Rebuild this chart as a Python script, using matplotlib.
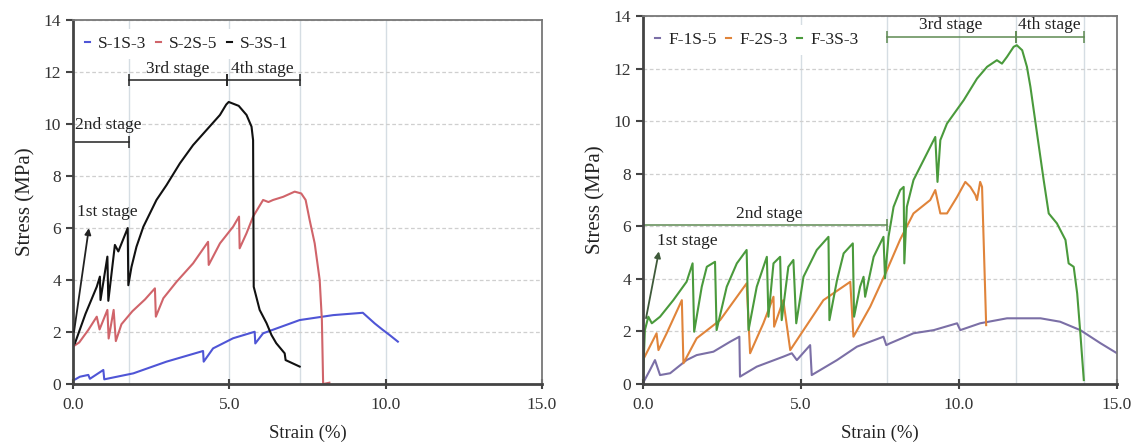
import matplotlib
matplotlib.use("Agg")
import matplotlib.pyplot as plt

plt.rcParams['font.family'] = ['Liberation Serif', 'DejaVu Serif']

# ---------------- Left panel data ----------------
s1_x = [0.0, 0.22, 0.49, 0.54, 0.97, 1.0, 1.93, 2.99, 4.16, 4.18, 4.48, 5.12, 5.81, 5.83, 6.08,
        7.25, 8.32, 9.27, 9.65, 9.91, 10.13, 10.39]
s1_y = [0.13, 0.28, 0.35, 0.2, 0.54, 0.18, 0.41, 0.86, 1.27, 0.86, 1.37, 1.76, 2.01, 1.56, 1.95,
        2.46, 2.65, 2.74, 2.33, 2.08, 1.88, 1.63]

s2_x = [0.0, 0.2, 0.49, 0.76, 0.85, 1.1, 1.14, 1.3, 1.37, 1.55, 1.9, 2.3, 2.62, 2.65, 2.89, 3.31,
        3.84, 4.32, 4.34, 4.7, 5.12, 5.31, 5.33, 5.55, 5.76, 6.08, 6.25, 6.4, 6.72, 7.09, 7.3, 7.44,
        7.57, 7.73, 7.89, 7.96, 8.0, 8.2]
s2_y = [1.44, 1.6, 2.08, 2.59, 2.1, 2.85, 1.75, 2.85, 1.65, 2.3, 2.8, 3.25, 3.68, 2.59, 3.3, 3.93,
        4.64, 5.47, 4.58, 5.41, 6.05, 6.44, 5.22, 5.8, 6.44, 7.08, 7.0, 7.08, 7.2, 7.4, 7.33, 7.08,
        6.3, 5.41, 4.0, 2.46, 0.0, 0.05]

s3_x = [0.0, 0.06, 0.4, 0.76, 0.86, 0.88, 1.1, 1.13, 1.34, 1.45, 1.55, 1.75, 1.77, 1.87, 2.03,
        2.25, 2.67, 2.99, 3.42, 3.84, 4.27, 4.7, 4.9, 4.98, 5.3, 5.55, 5.71, 5.76, 5.78, 5.97,
        6.19, 6.35, 6.5, 6.77, 6.8, 7.25]
s3_y = [1.5, 1.56, 2.7, 3.74, 4.13, 3.23, 4.9, 3.2, 5.35, 5.1, 5.4, 6.0, 3.8, 4.5, 5.28,
        6.05, 7.08, 7.65, 8.49, 9.19, 9.77, 10.35, 10.75, 10.85, 10.7, 10.35, 9.9, 9.38, 3.74, 2.85,
        2.34, 1.88, 1.57, 1.18, 0.92, 0.67]

# ---------------- Right panel data ----------------
f1_x = [0.0, 0.22, 0.38, 0.45, 0.54, 0.86, 1.38, 1.7, 2.23, 2.76, 3.05, 3.07, 3.6, 4.44, 4.71,
        4.87, 5.29, 5.34, 6.14, 6.77, 7.61, 7.7, 7.82, 8.56, 9.2, 9.94, 10.04, 10.67, 11.52,
        12.58, 13.2, 13.84, 14.48, 15.0]
f1_y = [0.03, 0.53, 0.91, 0.66, 0.34, 0.41, 0.91, 1.1, 1.23, 1.61, 1.8, 0.28, 0.66, 1.04, 1.17,
        0.91, 1.48, 0.34, 0.91, 1.42, 1.8, 1.48, 1.55, 1.93, 2.05, 2.31, 2.05, 2.31, 2.5,
        2.5, 2.37, 2.05, 1.55, 1.17]

f2_x = [0.0, 0.43, 0.49, 0.75, 1.23, 1.28, 1.7, 2.44, 3.28, 3.39, 3.81, 4.13, 4.15, 4.44, 4.66,
        5.08, 5.71, 6.56, 6.66, 7.19, 7.72, 8.14, 8.56, 9.09, 9.25, 9.41, 9.62, 9.94, 10.2, 10.36,
        10.52, 10.57, 10.67, 10.73, 10.78, 10.86]
f2_y = [0.91, 1.93, 1.29, 1.93, 3.19, 0.79, 1.74, 2.43, 3.83, 1.17, 2.31, 3.32, 2.18, 3.19, 1.29,
        2.05, 3.19, 3.89, 1.8, 2.94, 4.33, 5.5, 6.49, 7.0, 7.38, 6.49, 6.49, 7.12, 7.69, 7.5,
        7.19, 7.0, 7.69, 7.5, 5.48, 2.24]

f3_x = [0.0, 0.06, 0.17, 0.28, 0.54, 0.96, 1.38, 1.57, 1.62, 1.86, 2.02, 2.28, 2.33, 2.65, 2.97,
        3.28, 3.34, 3.6, 3.92, 3.97, 4.13, 4.34, 4.39, 4.6, 4.76, 4.85, 5.08, 5.5, 5.87, 5.9,
        6.14, 6.35, 6.64, 6.68, 6.87, 6.98, 7.03, 7.3, 7.61, 7.66, 7.77, 7.93, 8.14, 8.25, 8.27,
        8.35, 8.56, 8.88, 9.25, 9.32, 9.41, 9.62, 10.15, 10.57, 10.89, 11.2, 11.36, 11.52, 11.73,
        11.83, 12.0, 12.15, 12.26, 12.47, 12.68, 12.84, 13.1, 13.37, 13.47, 13.63, 13.74, 13.84,
        13.95]
f3_y = [0.15, 2.05, 2.56, 2.31, 2.56, 3.19, 3.89, 4.59, 1.99, 3.7, 4.46, 4.65, 2.05, 3.7, 4.59,
        5.1, 2.05, 3.7, 4.84, 2.56, 4.59, 4.84, 2.43, 4.46, 4.72, 2.31, 4.08, 5.1, 5.6, 2.43,
        3.95, 4.97, 5.35, 2.56, 3.7, 4.08, 3.32, 4.84, 5.6, 4.02, 5.6, 6.74, 7.38, 7.5, 4.59,
        6.74, 7.76, 8.52, 9.4, 7.69, 9.28, 9.91, 10.8, 11.62, 12.07, 12.32, 12.19, 12.45, 12.83,
        12.89, 12.7, 12.07, 11.31, 9.53, 7.76, 6.49, 6.11, 5.48, 4.59, 4.46, 3.45, 1.93,
        0.15]

left_labels = ["S-1S-3", "S-2S-5", "S-3S-1"]
right_labels = ["F-1S-5", "F-2S-3", "F-3S-3"]
left_colors = ["#4f55d6", "#d0646a", "#111111"]
right_colors = ["#7b6fa6", "#e0843a", "#4a9a3c"]

x_ticks = [0, 5, 10, 15]
x_ticklabels = ["0.0", "5.0", "10.0", "15.0"]
y_ticks = [0, 2, 4, 6, 8, 10, 12, 14]

# stage annotations: (x_start, x_end, y_line, label, label_x, label_y)
left_stages = [(0.0, 1.78, 9.3, "2nd stage", 1.13, 9.95),
               (1.78, 4.94, 11.7, "3rd stage", 3.35, 12.1),
               (4.94, 7.25, 11.7, "4th stage", 6.05, 12.1)]
left_vlines = [1.78, 7.25]
right_stages = [(0.0, 7.72, 6.05, "2nd stage", 4.0, 6.45),
                (7.72, 11.8, 13.2, "3rd stage", 9.75, 13.65),
                (11.8, 13.95, 13.2, "4th stage", 12.86, 13.65)]
right_vlines = [7.72, 11.8, 13.95]

fig = plt.figure(figsize=(11.37, 4.46), dpi=100)
axL = fig.add_axes([0.0642, 0.139, 0.4125, 0.816])
axR = fig.add_axes([0.5655, 0.139, 0.4169, 0.825])

FS = 12.5


def style(ax, vlines):
    ax.set_xlim(0, 15)
    ax.set_ylim(0, 14)
    ax.set_xticks(x_ticks)
    ax.set_xticklabels(x_ticklabels)
    ax.set_yticks(y_ticks)
    ax.yaxis.grid(True, color="#cfcfcf", linestyle=(0, (3, 2)), linewidth=0.9)
    for xv in [5, 10] + vlines:
        ax.axvline(xv, color="#d5dde3", linewidth=1.0, zorder=0)
    ax.set_axisbelow(True)
    for side in ["left", "bottom"]:
        ax.spines[side].set_color("#444444")
        ax.spines[side].set_linewidth(2.0)
    for side in ["top", "right"]:
        ax.spines[side].set_color("#777777")
        ax.spines[side].set_linewidth(1.3)
    ax.tick_params(axis="y", direction="out", length=5, width=1.5, color="#444444",
                   labelsize=FS, labelcolor="#333333")
    ax.tick_params(axis="x", direction="inout", length=7, width=1.5, color="#444444",
                   labelsize=FS, labelcolor="#333333", pad=6)
    ax.set_xlabel("Strain (%)", fontsize=13.5, color="#222222", labelpad=8)
    ax.set_ylabel("Stress (MPa)", fontsize=15, color="#222222", labelpad=6)


style(axL, left_vlines)
style(axR, right_vlines)

for xs, ys, lab, c in zip([s1_x, s2_x, s3_x], [s1_y, s2_y, s3_y], left_labels, left_colors):
    axL.plot(xs, ys, color=c, linewidth=1.5, label=lab)
for xs, ys, lab, c in zip([f1_x, f2_x, f3_x], [f1_y, f2_y, f3_y], right_labels, right_colors):
    axR.plot(xs, ys, color=c, linewidth=1.5, label=lab)


def stages(ax, st, color):
    for x0, x1, yl, lab, tx, ty in st:
        ax.plot([x0, x1], [yl, yl], color=color, linewidth=1.1, marker="|",
                markersize=8, markeredgewidth=1.1)
        ax.text(tx, ty, lab, ha="center", va="center", fontsize=12.5, color="#222222")


stages(axL, left_stages, "#222222")
stages(axR, right_stages, "#5e8a52")

axL.annotate("", xy=(0.52, 6.1), xytext=(0.02, 1.9),
             arrowprops=dict(arrowstyle="-|>", color="#222222", lw=1.3, mutation_scale=9))
axL.text(0.12, 6.6, "1st stage", fontsize=12.5, ha="left", va="center", color="#222222")
axR.annotate("", xy=(0.52, 5.15), xytext=(0.08, 2.4),
             arrowprops=dict(arrowstyle="-|>", color="#3f5a3a", lw=1.3, mutation_scale=9))
axR.text(0.45, 5.45, "1st stage", fontsize=12.5, ha="left", va="center", color="#222222")

for ax in (axL, axR):
    leg = ax.legend(loc="upper left", ncol=3, handlelength=0.3, handletextpad=0.45,
                    columnspacing=0.55, fontsize=12.5, frameon=True, borderaxespad=0.3,
                    bbox_to_anchor=(0.0, 0.99))
    leg.get_frame().set_edgecolor("none")
    leg.get_frame().set_facecolor("white")
    leg.get_frame().set_alpha(1.0)
    for t in leg.get_texts():
        t.set_color("#222222")

fig.savefig("out.png", dpi=100)
